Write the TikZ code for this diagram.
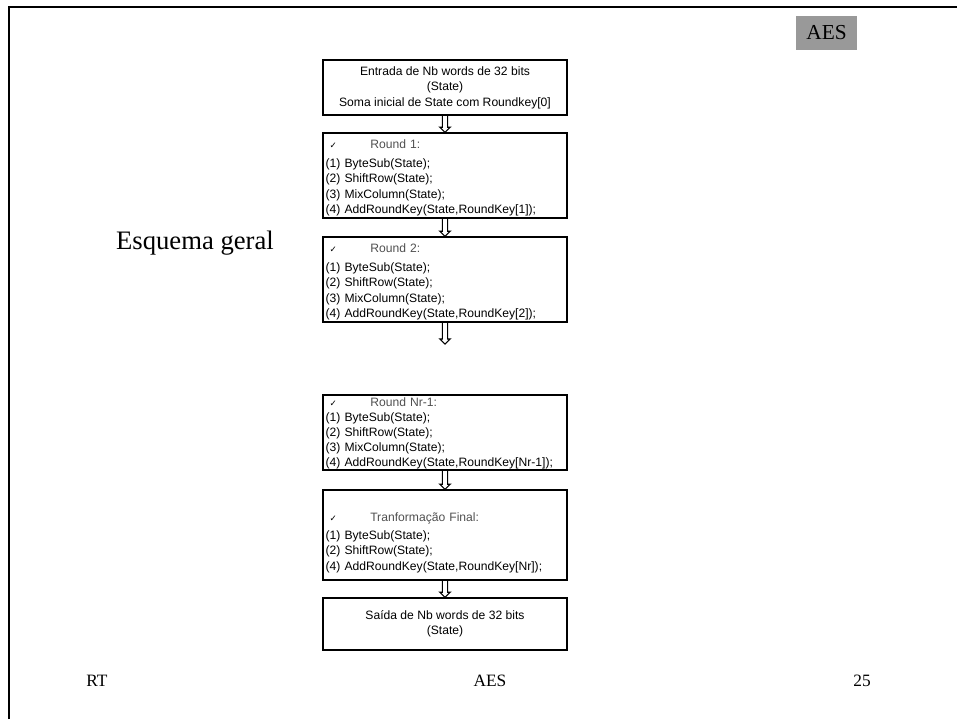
\documentclass[tikz,border=0pt]{standalone}
\usepackage{fontspec}
\setmainfont{Liberation Serif}
\setsansfont{Liberation Sans}
\newfontfamily\chkfont{DejaVu Sans}
\usetikzlibrary{calc}
\definecolor{taggray}{RGB}{153,153,153}
\definecolor{titlegray}{RGB}{80,80,80}
\newcommand{\roundtitle}[3]{\rule{0pt}{#1}\hspace*{3pt}{\chkfont\fontsize{6.5}{8}\selectfont ✓}\hspace{25pt}{\color{titlegray}#3}\\[#2]}
\newcommand{\hollowarrow}[2]{\draw[line width=0.8pt,line join=miter]($(#1.south)+(-2.6,0)$)--($(#2.north)+(-2.6,-5)$)--($(#2.north)+(-5.2,-5)$)--(#2.north)--($(#2.north)+(5.2,-5)$)--($(#2.north)+(2.6,-5)$)--($(#1.south)+(2.6,0)$);}

\begin{document}
\begin{tikzpicture}[x=0.75pt,y=-0.75pt,
  box/.style={draw,line width=1.1pt,minimum width=183pt,inner sep=2pt,font=\sffamily\fontsize{9.1}{11.6}\selectfont},
  roundbox/.style={box,inner ysep=0.8pt,text width=179pt,align=left}]
  \useasboundingbox (0,0) rectangle (957,719);
  \draw[line width=2.2pt](9,719)--(9,7)--(957,7);
  \node[fill=taggray,minimum width=45.75pt,minimum height=25.5pt,inner sep=0pt,font=\fontsize{16}{18}\selectfont] (tag) at(826.5,33){AES};
  \node[font=\fontsize{20}{24}\selectfont] (esquema) at(195,243){Esquema geral};
  \node[box,align=center,minimum height=41.25pt] (entrada) at(445,87.5){Entrada de Nb words de 32 bits\\(State)\\Soma inicial de State com Roundkey[0]};
  \node[roundbox,minimum height=63.75pt] (round1) at(445,175.5){\roundtitle{10pt}{2.6pt}{Round 1:}(1) ByteSub(State);\\(2) ShiftRow(State);\\(3) MixColumn(State);\\(4) AddRoundKey(State,RoundKey[1]);};
  \node[roundbox,minimum height=63.75pt] (round2) at(445,279.5){\roundtitle{10pt}{2.6pt}{Round 2:}(1) ByteSub(State);\\(2) ShiftRow(State);\\(3) MixColumn(State);\\(4) AddRoundKey(State,RoundKey[2]);};
  \node[coordinate] (gap) at(445,344){};
  \node[roundbox,minimum height=56.25pt,font=\sffamily\fontsize{9.1}{11.2}\selectfont] (roundnr) at(445,432.5){\roundtitle{8pt}{0pt}{Round Nr-1:}(1) ByteSub(State);\\(2) ShiftRow(State);\\(3) MixColumn(State);\\(4) AddRoundKey(State,RoundKey[Nr-1]);};
  \node[roundbox,minimum height=67.5pt] (final) at(445,535){\roundtitle{18pt}{2pt}{Tranformação Final:}(1) ByteSub(State);\\(2) ShiftRow(State);\\(4) AddRoundKey(State,RoundKey[Nr]);};
  \node[box,align=center,minimum height=39pt] (saida) at(445,624){Saída de Nb words de 32 bits\\(State)};
  \hollowarrow{entrada}{round1}
  \hollowarrow{round1}{round2}
  \hollowarrow{round2}{gap}
  \hollowarrow{roundnr}{final}
  \hollowarrow{final}{saida}
  \node[font=\fontsize{13}{15}\selectfont] (rt) at(97,681){RT};
  \node[font=\fontsize{13}{15}\selectfont] (titulo) at(490,681){AES};
  \node[font=\fontsize{13}{15}\selectfont] (pagina) at(862,681){25};
\end{tikzpicture}
\end{document}
